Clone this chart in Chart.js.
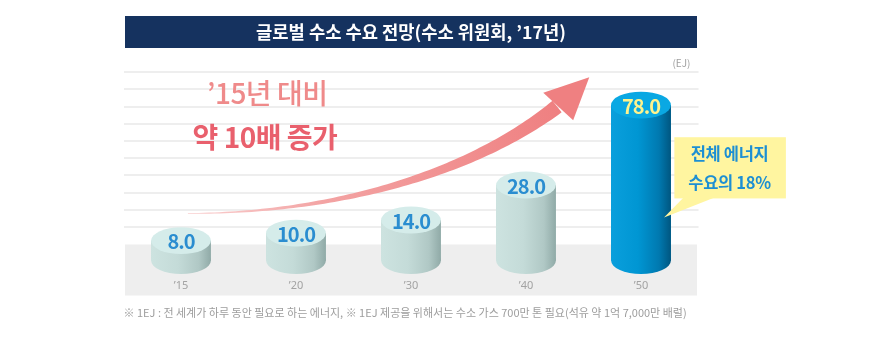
<!DOCTYPE html>
<html><head><meta charset="utf-8">
<script src="https://cdn.jsdelivr.net/npm/chart.js@4.4.1/dist/chart.umd.min.js"></script>
<style>html,body{margin:0;padding:0;background:#fff}</style>
</head><body>
<canvas id="c" width="876" height="364"></canvas>
<script>
// ---- data ----
const years = ['’15', '’20', '’30', '’40', '’50'];
const demandEJ = [8.0, 10.0, 14.0, 28.0, 78.0];
const valueLabels = ['8.0', '10.0', '14.0', '28.0', '78.0'];
const titleText = '글로벌 수소 수요 전망(수소 위원회, ’17년)';
const unitText = '(EJ)';
const growthText = ['’15년 대비', '약 10배 증가'];
const calloutText = ['전체 에너지', '수요의 18%'];
const noteText = '※ 1EJ : 전 세계가 하루 동안 필요로 하는 에너지, ※ 1EJ 제공을 위해서는 수소 가스 700만 톤 필요(석유 약 1억 7,000만 배럴)';

const KR = "'Noto Sans CJK KR', 'Noto Sans', sans-serif";

// square-root value scale (the infographic's bar heights follow it closely)
class SqrtScale extends Chart.LinearScale {
  getPixelForValue(value) {
    const a = Math.sqrt(this.min), b = Math.sqrt(this.max);
    const s = Math.sqrt(Math.max(value, this.min));
    return this.getPixelForDecimal((s - a) / (b - a));
  }
  getValueForPixel(pixel) {
    const a = Math.sqrt(this.min), b = Math.sqrt(this.max);
    const s = a + this.getDecimalForPixel(pixel) * (b - a);
    return s * s;
  }
}
SqrtScale.id = 'sqrt';
SqrtScale.defaults = Chart.LinearScale.defaults;
Chart.register(SqrtScale);

const lastIdx = demandEJ.length - 1;

const deco = {
  id: 'deco',
  beforeDraw(chart) {
    const {ctx, chartArea: ca, scales: {g}} = chart;
    const tb = chart.titleBlock;
    ctx.save();
    ctx.fillStyle = '#15325f';
    ctx.fillRect(ca.left + 1.5, tb.top, ca.width - 3, 32);
    const y0 = g.getPixelForValue(0);
    ctx.fillStyle = '#eeeeee';
    ctx.fillRect(ca.left + 1.5, y0, ca.width - 3, ca.bottom + 35 - y0);
    ctx.restore();
  },
  afterDatasetsDraw(chart) {
    const {ctx, scales: {x, g}} = chart;
    const P = (c, v) => [x.getPixelForValue(c), g.getPixelForValue(v)];
    ctx.save();

    // arrow
    const p0 = P(0.06, 1.8), p1 = P(1.3, 1.8), p2 = P(2.5, 4.0), p3 = P(3.27, 8.0);
    const bz = (t, i) => {
      const u = 1 - t;
      return u*u*u*p0[i] + 3*u*u*t*p1[i] + 3*u*t*t*p2[i] + t*t*t*p3[i];
    };
    const dbz = (t, i) => {
      const u = 1 - t;
      return 3*u*u*(p1[i]-p0[i]) + 6*u*t*(p2[i]-p1[i]) + 3*t*t*(p3[i]-p2[i]);
    };
    const N = 80, L = [], R = [];
    for (let k = 0; k <= N; k++) {
      const t = k / N;
      const px = bz(t, 0), py = bz(t, 1);
      let dx = dbz(t, 0), dy = dbz(t, 1);
      const len = Math.hypot(dx, dy) || 1; dx /= len; dy /= len;
      const w = (0.8 + 14 * Math.pow(t, 1.3)) / 2;
      L.push([px - dy * w, py + dx * w]);
      R.push([px + dy * w, py - dx * w]);
    }
    const grad = ctx.createLinearGradient(p0[0], p0[1], p3[0], p3[1]);
    grad.addColorStop(0, '#f9d0d0');
    grad.addColorStop(0.35, '#f3a3a3');
    grad.addColorStop(1, '#ef8081');
    ctx.fillStyle = grad;
    ctx.beginPath();
    L.forEach((p, i) => i ? ctx.lineTo(p[0], p[1]) : ctx.moveTo(p[0], p[1]));
    for (let i = R.length - 1; i >= 0; i--) ctx.lineTo(R[i][0], R[i][1]);
    ctx.closePath();
    ctx.fill();
    const tip = P(3.55, 9.7), w1 = P(3.15, 8.8), w2 = P(3.41, 7.2);
    ctx.fillStyle = '#ef8081';
    ctx.beginPath();
    ctx.moveTo(tip[0], tip[1]); ctx.lineTo(w1[0], w1[1]); ctx.lineTo(w2[0], w2[1]);
    ctx.closePath(); ctx.fill();

    // cylinders
    const meta = chart.getDatasetMeta(0);
    meta.data.forEach((bar, i) => {
      const blue = i === lastIdx;
      const rx = bar.width / 2, ry = rx * 0.45;
      const l = bar.x - rx, r = bar.x + rx;
      const body = ctx.createLinearGradient(l, 0, r, 0);
      if (blue) {
        body.addColorStop(0, '#0a9fdc'); body.addColorStop(0.45, '#0096d3');
        body.addColorStop(0.8, '#0079b0'); body.addColorStop(1, '#005680');
      } else {
        body.addColorStop(0, '#cde3e0'); body.addColorStop(0.45, '#c4dbd8');
        body.addColorStop(0.8, '#b0c8c5'); body.addColorStop(1, '#90aaa7');
      }
      ctx.fillStyle = body;
      ctx.beginPath();
      ctx.ellipse(bar.x, bar.base, rx, ry, 0, 0, Math.PI * 2);
      ctx.fill();
      ctx.fillRect(l, bar.y, bar.width, bar.base - bar.y);
      ctx.fillStyle = blue ? '#0aa8e3' : '#d5ecea';
      ctx.beginPath();
      ctx.ellipse(bar.x, bar.y, rx, ry, 0, 0, Math.PI * 2);
      ctx.fill();
      ctx.fillStyle = blue ? '#fff38c' : '#2a8dd0';
      ctx.font = 'bold 20px ' + KR;
      ctx.letterSpacing = '-1px';
      ctx.textAlign = 'center';
      ctx.textBaseline = 'middle';
      ctx.fillText(valueLabels[i], bar.x, bar.y + 1);
    });
    ctx.letterSpacing = '0px';

    // growth text
    ctx.textAlign = 'center';
    ctx.textBaseline = 'middle';
    ctx.fillStyle = '#ef8a8a';
    ctx.font = '500 28px ' + KR;
    ctx.letterSpacing = '-0.5px';
    let q = P(0.75, 8.78);
    ctx.fillText(growthText[0], q[0], q[1]);
    ctx.fillStyle = '#e9606d';
    ctx.font = 'bold 28px ' + KR;
    q = P(0.73, 6.22);
    ctx.fillText(growthText[1], q[0], q[1]);
    ctx.letterSpacing = '0px';

    // callout
    const b1 = P(4.29, 6.22), b2 = P(5.26, 2.67);
    ctx.fillStyle = '#fff5a0';
    ctx.fillRect(b1[0], b1[1], b2[0] - b1[0], b2[1] - b1[1]);
    const c1 = P(4.37, 2.67), c2 = P(4.64, 2.67), ct = P(4.2, 1.57);
    ctx.beginPath();
    ctx.moveTo(c1[0], c1[1] - 1); ctx.lineTo(c2[0], c2[1] - 1); ctx.lineTo(ct[0], ct[1]);
    ctx.closePath(); ctx.fill();
    ctx.fillStyle = '#1d8fd3';
    ctx.font = 'bold 16.5px ' + KR;
    ctx.letterSpacing = '-0.3px';
    q = P(4.77, 5.29);
    ctx.fillText(calloutText[0], q[0], q[1]);
    q = P(4.77, 3.6);
    ctx.fillText(calloutText[1], q[0], q[1]);
    ctx.letterSpacing = '0px';

    // unit
    ctx.fillStyle = '#a0a0a0';
    ctx.font = '10px ' + KR;
    ctx.textAlign = 'right';
    q = P(4.43, 10.52);
    ctx.fillText(unitText, q[0], q[1]);
    ctx.restore();
  }
};

new Chart(document.getElementById('c'), {
  type: 'bar',
  data: {
    labels: years,
    datasets: [{
      data: demandEJ,
      yAxisID: 'y',
      backgroundColor: c => c.dataIndex === lastIdx ? '#0090cc' : '#c3dad7',
      borderWidth: 0,
      barPercentage: 0.52,
      categoryPercentage: 1
    }]
  },
  options: {
    responsive: false,
    animation: false,
    layout: { padding: { top: 16, left: 123.5, right: 177.5, bottom: 44.6 } },
    plugins: {
      legend: { display: false },
      tooltip: { enabled: false },
      title: {
        display: true, text: titleText, color: '#ffffff',
        font: { size: 17.7, weight: 'bold', family: KR, lineHeight: 1.2 },
        padding: { top: 5.4, bottom: 29.4 }
      },
      subtitle: {
        display: true, text: noteText, position: 'bottom', align: 'start',
        color: '#9d9d9d', font: { size: 11, family: KR, lineHeight: 1.2 },
        padding: { top: -4.3, bottom: 0 }
      }
    },
    scales: {
      x: {
        grid: { display: false, drawTicks: false },
        border: { display: false },
        ticks: { color: '#a3a3a3', font: { size: 11, family: "'Noto Sans', sans-serif" }, padding: 18.4 }
      },
      y: { type: 'sqrt', min: 3.8, max: 106, display: false },
      g: {
        type: 'linear', position: 'left', min: -0.93, max: 10,
        ticks: { display: false, stepSize: 1 },
        grid: { color: c => (c.tick && c.tick.value > 0) ? '#eeeeee' : 'rgba(0,0,0,0)', lineWidth: 2, drawTicks: false },
        border: { display: false }
      }
    }
  },
  plugins: [deco]
});
</script>
</body></html>
